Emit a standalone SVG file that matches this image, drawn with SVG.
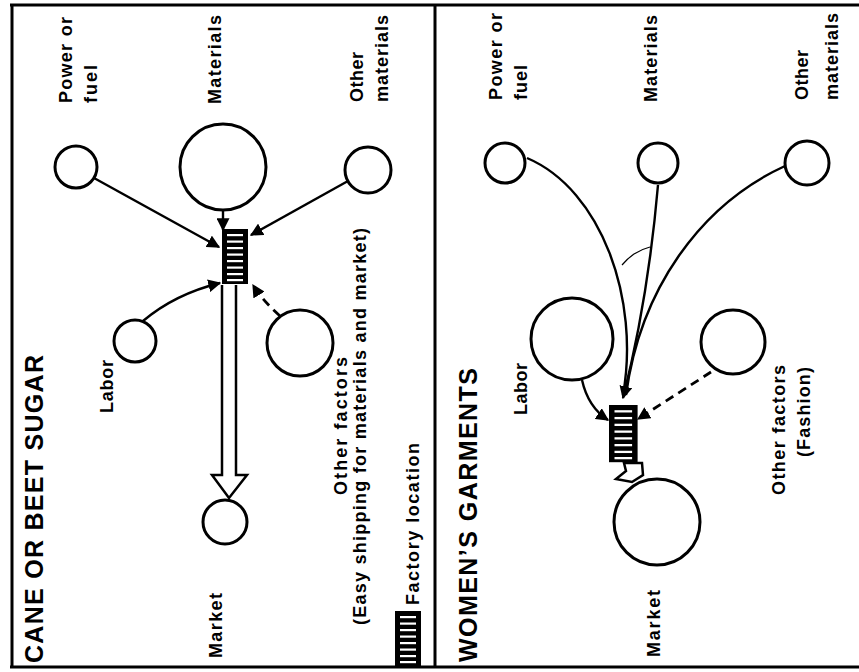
<svg xmlns="http://www.w3.org/2000/svg" width="859" height="672" viewBox="0 0 859 672">
<style>
text{font-family:"Liberation Sans",Arial,sans-serif;font-weight:bold;fill:#000;}
.lbl{font-size:18px;}
.ttl{font-size:25px;}
.node{fill:none;stroke:#000;stroke-width:3;}
.ln{fill:none;stroke:#000;stroke-width:2.4;}
.dash{fill:none;stroke:#000;stroke-width:2.8;stroke-dasharray:9 6;}
.frame{stroke:#000;stroke-width:3;fill:none;}
.bar{fill:#fff;}
.hollow{fill:#fff;stroke:#000;stroke-width:2.5;stroke-linejoin:miter;}
</style>
<defs>
<marker id="ah" viewBox="0 0 10 10" refX="9" refY="5" markerWidth="13" markerHeight="13" markerUnits="userSpaceOnUse" orient="auto">
<path d="M0,0 L10,5 L0,10 Z" fill="#000"/>
</marker>
<g id="ladder">
<rect x="0" y="0" width="26" height="55" fill="#000"/>
<rect class="bar" x="5" y="5" width="16" height="2.2"/>
<rect class="bar" x="5" y="11.5" width="16" height="2.2"/>
<rect class="bar" x="5" y="18" width="16" height="2.2"/>
<rect class="bar" x="5" y="24.5" width="16" height="2.2"/>
<rect class="bar" x="5" y="31" width="16" height="2.2"/>
<rect class="bar" x="5" y="37.5" width="16" height="2.2"/>
<rect class="bar" x="5" y="44" width="16" height="2.2"/>
<rect class="bar" x="5" y="50" width="16" height="2.2"/>
</g>
</defs>
<rect width="859" height="672" fill="#fff"/>
<g id="frame">
<line class="frame" x1="10" y1="5" x2="859" y2="5"/>
<line class="frame" x1="12" y1="5" x2="12" y2="667"/>
<line class="frame" x1="10" y1="667" x2="859" y2="667"/>
<line class="frame" x1="435" y1="5" x2="435" y2="667"/>
</g>

<!-- LEFT PANEL -->
<g id="title-left"><text class="ttl" transform="translate(43,663) rotate(-90)" textLength="308" lengthAdjust="spacing">CANE OR BEET SUGAR</text></g>

<g id="connectors-left">
<line class="ln" x1="94" y1="178" x2="219" y2="247" marker-end="url(#ah)"/>
<line class="ln" x1="348" y1="181" x2="251" y2="235" marker-end="url(#ah)"/>
<line class="ln" x1="223" y1="210" x2="223" y2="230" marker-end="url(#ah)"/>
<path class="ln" d="M143,321 Q175,294 220,283" marker-end="url(#ah)"/>
<path class="dash" d="M280,316 Q262,300 253,285" marker-end="url(#ah)"/>
<path class="hollow" d="M222,285 L222,475 L212,475 L229,498 L247,475 L236,475 L236,285"/>
</g>

<g id="factory-left"><use href="#ladder" x="222" y="229"/></g>

<g id="n-power-left"><circle class="node" cx="76" cy="167" r="21"/>
<text class="lbl" transform="translate(72,103) rotate(-90)" textLength="86" lengthAdjust="spacing">Power or</text>
<text class="lbl" transform="translate(97,103) rotate(-90)" textLength="38" lengthAdjust="spacing">fuel</text></g>
<g id="n-materials-left"><circle class="node" cx="223" cy="167" r="43"/>
<text class="lbl" transform="translate(221,104) rotate(-90)" textLength="89" lengthAdjust="spacing">Materials</text></g>
<g id="n-othermat-left"><circle class="node" cx="368" cy="170" r="23"/>
<text class="lbl" transform="translate(363,102) rotate(-90)" textLength="50" lengthAdjust="spacing">Other</text>
<text class="lbl" transform="translate(388,102) rotate(-90)" textLength="87" lengthAdjust="spacing">materials</text></g>
<g id="n-labor-left"><circle class="node" cx="135" cy="341" r="21"/>
<text class="lbl" transform="translate(113,413) rotate(-90)" textLength="53" lengthAdjust="spacing">Labor</text></g>
<g id="n-otherfac-left"><circle class="node" cx="300" cy="343" r="33"/>
<text class="lbl" transform="translate(347,495) rotate(-90)" textLength="138" lengthAdjust="spacing">Other factors</text>
<text class="lbl" transform="translate(366,625) rotate(-90)" textLength="397" lengthAdjust="spacing">(Easy shipping for materials and market)</text></g>
<g id="n-market-left"><circle class="node" cx="225" cy="522" r="22"/>
<text class="lbl" transform="translate(222,658) rotate(-90)" textLength="65" lengthAdjust="spacing">Market</text></g>

<g id="legend"><use href="#ladder" x="395" y="611"/>
<text class="lbl" transform="translate(419,605) rotate(-90)" textLength="162" lengthAdjust="spacing">Factory location</text></g>

<!-- RIGHT PANEL -->
<g id="title-right"><text class="ttl" transform="translate(477,662) rotate(-90)" textLength="294" lengthAdjust="spacing">WOMEN’S GARMENTS</text></g>

<g id="connectors-right">
<path class="ln" d="M527,158 C602,190 640,300 623,395"/>
<path class="ln" d="M658,185 Q648,300 623,398" marker-end="url(#ah)"/>
<path class="ln" d="M785,166 C700,205 640,290 626,395"/>
<path d="M622,265 Q628,258 634,254 Q642,249 650,247" fill="none" stroke="#000" stroke-width="1.2"/>
<path class="ln" d="M582,380 Q588,407 608,420" marker-end="url(#ah)"/>
<path class="dash" d="M711,372 Q680,392 638,419" marker-end="url(#ah)"/>
<path class="hollow" d="M624,463 L642,463 L643,475 L632,482 L616,479 L626,471 Z"/>
</g>

<g id="factory-right"><use href="#ladder" x="609" y="405" transform="translate(609,405) scale(1.1,1.04) translate(-609,-405)"/></g>

<g id="n-power-right"><circle class="node" cx="505" cy="163" r="20"/>
<text class="lbl" transform="translate(502,100) rotate(-90)" textLength="87" lengthAdjust="spacing">Power or</text>
<text class="lbl" transform="translate(527,100) rotate(-90)" textLength="35" lengthAdjust="spacing">fuel</text></g>
<g id="n-materials-right"><circle class="node" cx="658" cy="163" r="20"/>
<text class="lbl" transform="translate(657,102) rotate(-90)" textLength="87" lengthAdjust="spacing">Materials</text></g>
<g id="n-othermat-right"><circle class="node" cx="807" cy="163" r="22"/>
<text class="lbl" transform="translate(808,100) rotate(-90)" textLength="50" lengthAdjust="spacing">Other</text>
<text class="lbl" transform="translate(838,100) rotate(-90)" textLength="87" lengthAdjust="spacing">materials</text></g>
<g id="n-labor-right"><circle class="node" cx="572" cy="339" r="41"/>
<text class="lbl" transform="translate(527,415) rotate(-90)" textLength="52" lengthAdjust="spacing">Labor</text></g>
<g id="n-otherfac-right"><circle class="node" cx="733" cy="342" r="32"/>
<text class="lbl" transform="translate(785,495) rotate(-90)" textLength="130" lengthAdjust="spacing">Other factors</text>
<text class="lbl" transform="translate(810,457) rotate(-90)" textLength="90" lengthAdjust="spacing">(Fashion)</text></g>
<g id="n-market-right"><circle class="node" cx="657" cy="522" r="43"/>
<text class="lbl" transform="translate(660,657) rotate(-90)" textLength="67" lengthAdjust="spacing">Market</text></g>
</svg>
